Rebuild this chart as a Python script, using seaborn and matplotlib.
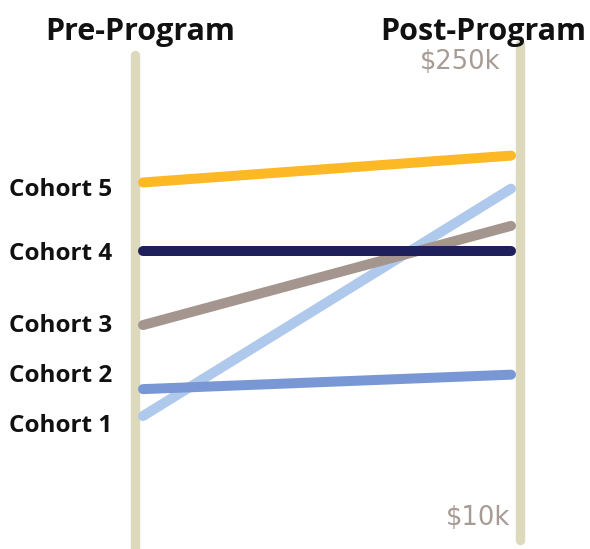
import matplotlib
matplotlib.use("Agg")
import matplotlib.pyplot as plt
import seaborn as sns
import pandas as pd

# ---- data (values in $k) ----
cohorts = ["Cohort 1", "Cohort 2", "Cohort 3", "Cohort 4", "Cohort 5"]
pre_values = [70, 83, 114, 150, 183]
post_values = [180, 90, 162, 150, 196]
label_values = [62.3, 86.5, 110.6, 145.5, 176.5]   # label baselines
stages = ["Pre-Program", "Post-Program"]
axis_min_label = "$10k"
axis_max_label = "$250k"
axis_min, axis_max = 10, 250
colors = ["#AFC9EC", "#7A97D5", "#A5958F", "#1F1F5B", "#FDB826"]

rows = []
for c, a, b in zip(cohorts, pre_values, post_values):
    rows.append({"cohort": c, "stage": 0, "value": a})
    rows.append({"cohort": c, "stage": 1, "value": b})
df = pd.DataFrame(rows)

sns.set_theme(style="white")
plt.rcParams["font.family"] = ["Open Sans", "DejaVu Sans"]

W, H = 590, 549
fig = plt.figure(figsize=(W / 100, H / 100), dpi=100)
ax = fig.add_axes([0, 0, 1, 1])

# pixel mapping helpers for layout
x0px, x1px = 143, 511
def xd(px):
    return (px - x0px) / (x1px - x0px)
ytop_px, ybot_px = 44, 540
def yd(py):
    return axis_min + (ybot_px - py) * (axis_max - axis_min) / (ybot_px - ytop_px)

ax.set_xlim(xd(0), xd(W))
ax.set_ylim(yd(H), yd(0))
ax.axis("off")

axis_color = "#DDD9BC"
# vertical axes
ax.plot([xd(135), xd(135)], [yd(55), yd(560)], color=axis_color, lw=6.8,
        solid_capstyle="round", zorder=1)
ax.plot([xd(520), xd(520)], [axis_max, axis_min], color=axis_color, lw=6.8,
        solid_capstyle="round", zorder=1)

palette = dict(zip(cohorts, colors))
sns.lineplot(data=df, x="stage", y="value", hue="cohort", palette=palette,
             linewidth=7.2, solid_capstyle="round", legend=False, ax=ax,
             zorder=3, sort=False, estimator=None)

# cohort labels
for c, v in zip(cohorts, label_values):
    ax.text(xd(9), v, c, ha="left", va="baseline", fontsize=17.5,
            fontweight="bold", color="#111111")

# stage titles
ax.text(xd(140.5), yd(39.5), stages[0], ha="center", va="baseline", fontsize=22,
        fontweight="bold", color="#111111")
ax.text(xd(483), yd(39.5), stages[1], ha="center", va="baseline", fontsize=22,
        fontweight="bold", color="#111111")

# value labels
ax.text(xd(501), yd(68.5), axis_max_label, ha="right", va="baseline", fontsize=18.5,
        color="#A89A94", family="DejaVu Sans")
ax.text(xd(510), yd(525), axis_min_label, ha="right", va="baseline", fontsize=18.5,
        color="#A89A94", family="DejaVu Sans")

fig.savefig("out.png", dpi=100, facecolor="white")
